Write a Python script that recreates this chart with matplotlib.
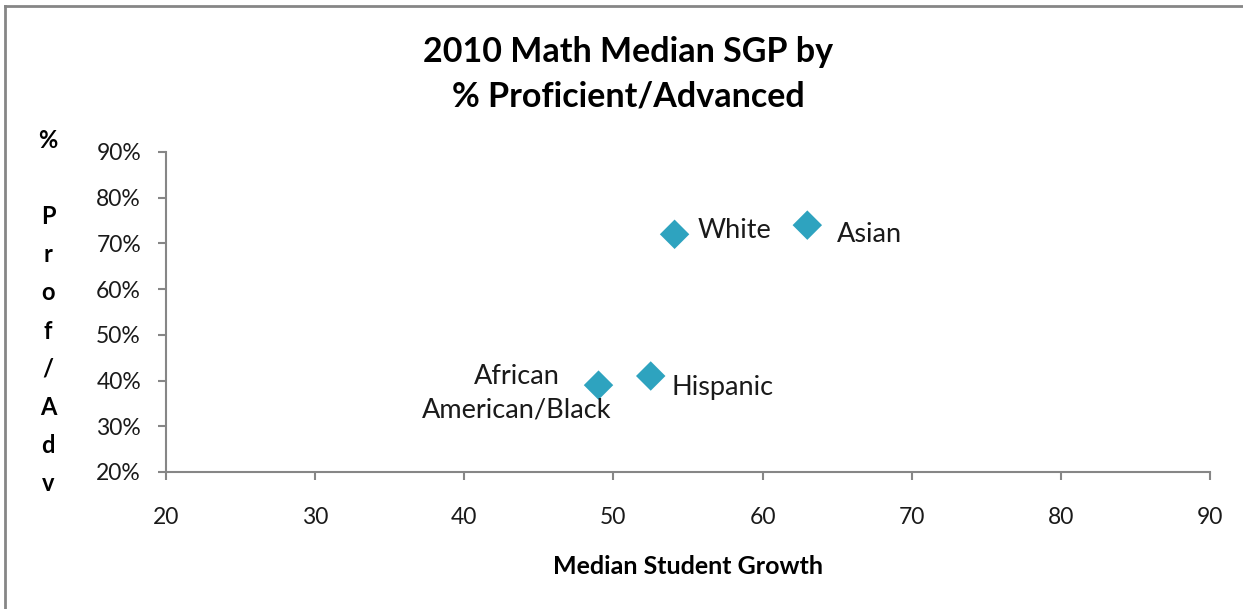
import matplotlib
matplotlib.use("Agg")
import matplotlib.pyplot as plt
from matplotlib.lines import Line2D
from matplotlib.ticker import FuncFormatter

plt.rcParams['font.family'] = ['Lato', 'DejaVu Sans']

groups = ['White', 'Asian', 'Hispanic', 'African\nAmerican/Black']
median_sgp = [54.1, 63.0, 52.5, 49.0]
pct_prof_adv = [0.72, 0.74, 0.41, 0.39]

# label placement (pixels from the marker) and alignment
label_offsets = [(23, 4), (30, -9), (21, -11), (-82, -8)]
label_ha = ['left', 'left', 'left', 'center']

marker_color = '#2EA3BF'
axis_gray = '#868686'

fig = plt.figure(figsize=(12.43, 6.09), dpi=100)
ax = fig.add_axes([166 / 1243, 1 - 472 / 609, (1210 - 166) / 1243, (472 - 152) / 609])

ax.scatter(median_sgp, pct_prof_adv, marker='D', s=15 ** 2, color=marker_color,
           edgecolors='none', zorder=3)

for x, y, name, off, ha in zip(median_sgp, pct_prof_adv, groups, label_offsets, label_ha):
    ax.annotate(name, (x, y), xytext=off, textcoords='offset pixels',
                ha=ha, va='center', fontsize=19.5, color='#1a1a1a', linespacing=1.4)

ax.set_xlim(20, 90)
ax.set_ylim(0.2, 0.9)
ax.set_xticks(range(20, 91, 10))
ax.set_yticks([0.2, 0.3, 0.4, 0.5, 0.6, 0.7, 0.8, 0.9])
ax.yaxis.set_major_formatter(FuncFormatter(lambda v, p: f"{v * 100:.0f}%"))

for side in ['top', 'right']:
    ax.spines[side].set_visible(False)
for side in ['left', 'bottom']:
    ax.spines[side].set_color(axis_gray)
    ax.spines[side].set_linewidth(1.5)

ax.tick_params(axis='both', direction='out', length=6, width=1.5, color=axis_gray,
               labelsize=16.5, labelcolor='#1a1a1a')
ax.tick_params(axis='x', pad=19)
ax.tick_params(axis='y', pad=12)

ax.set_xlabel('Median Student Growth', fontsize=18, fontweight='bold', labelpad=20)

# stacked vertical y label
fig.text(48 / 1243, 1 - 312 / 609, '%\n\nP\nr\no\nf\n/\nA\nd\nv', ha='center', va='center',
         fontsize=17, fontweight='bold', linespacing=1.79)

fig.text(628 / 1243, 1 - 74 / 609, '2010 Math Median SGP by\n% Proficient/Advanced',
         ha='center', va='center', fontsize=24.5, fontweight='bold', linespacing=1.5)

# outer chart frame (top and left edges visible)
fig.add_artist(Line2D([5 / 1243, 1], [1 - 6 / 609, 1 - 6 / 609], transform=fig.transFigure,
                      color=axis_gray, linewidth=2))
fig.add_artist(Line2D([5 / 1243, 5 / 1243], [0, 1 - 6 / 609], transform=fig.transFigure,
                      color=axis_gray, linewidth=2))

fig.savefig('out.png', dpi=100)
